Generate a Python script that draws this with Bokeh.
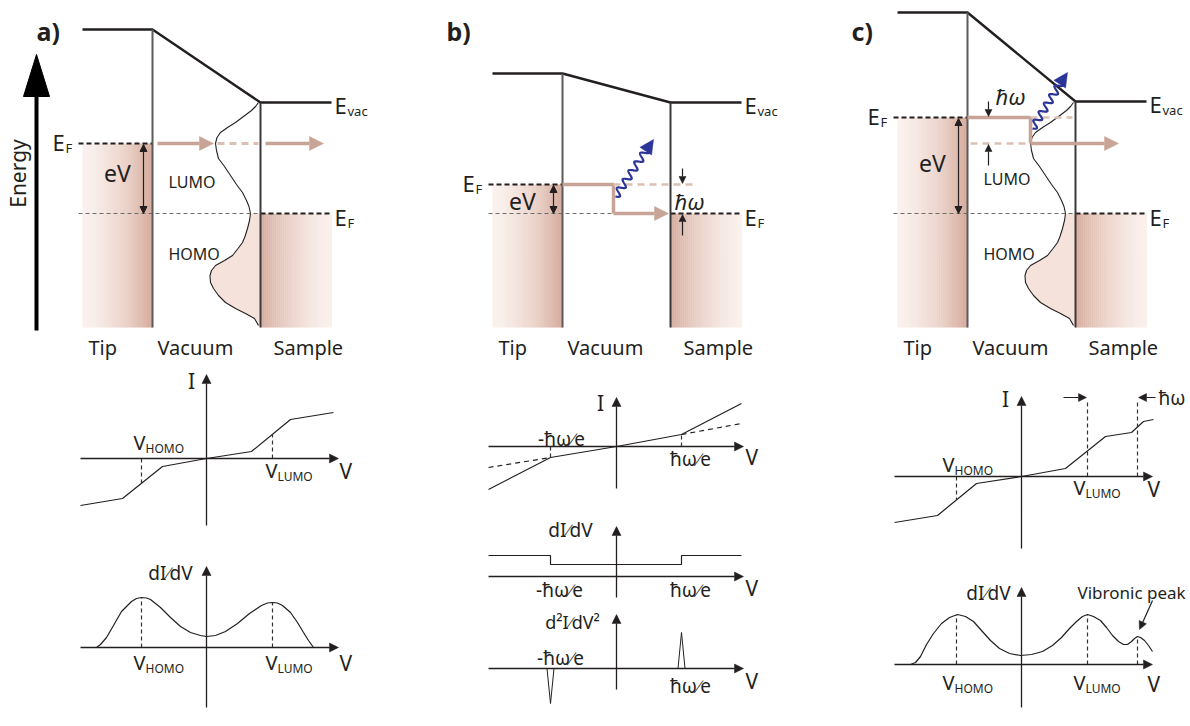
import numpy as np
from bokeh.plotting import figure
from bokeh.models import Range1d, Arrow, NormalHead
from bokeh.core.properties import value
from bokeh.embed import file_html
from bokeh.resources import INLINE

FONT = "Noto Sans"
INK = "#231f20"
WALL = "#5b5b5b"
TAN = "#c8a496"
TAN_DASH = "#dcc0b5"
BLUE = "#2a3597"
DOS_FILL = "#f4e2db"
FILL_DARK = (214, 172, 157)
FILL_LIGHT = (250, 240, 236)

# ---------------- band diagrams (top row) ----------------
PANEL_TAGS = ["a)", "b)", "c)"]
PANEL_DX = [0, 410, 815]
TIP_EVAC_Y = [29, 73, 12]
TIP_EF_Y = [143, 184, 117]
SAMPLE_EVAC_Y = [102, 102, 101]
SAMPLE_EF_Y = 213
BAND_BOTTOM_Y = 327
TIP_LEFT_X, TIP_WALL_X = 82, 152
SAMPLE_WALL_X, SAMPLE_RIGHT_X = 260, 331
EV_LABEL_X = [117, 112, 117]
EV_LABEL_Y = [172, 200, 162]
REGION_NAMES = ["Tip", "Vacuum", "Sample"]
REGION_X = [88, 157, 273]
REGION_Y = 347

# molecular density of states inside the barrier (panels a and c)
DOS_X = [258, 255, 251, 243, 235, 227, 220, 216.5, 215, 216, 218, 224, 230, 236, 242,
         246, 248.5, 250, 249, 247, 244.5, 242, 237.5, 232, 224, 215, 211, 209.5, 210,
         213, 218, 225, 235, 245, 254, 258]
DOS_Y = [102, 106, 110, 116, 122, 127, 132, 137, 143, 150, 158, 166, 175, 184, 192,
         200, 206, 213, 220, 228, 236, 242, 248, 255, 260, 265, 270, 275, 282,
         288, 295, 302, 308, 313, 318, 325]
DOS_PANELS = [0, 2]
ORBITAL_LABEL_X = [168, 983]
LUMO_LABEL_Y = [181, 178]
HOMO_LABEL_Y = [253, 253]

# tunnelling electrons
ELASTIC_A = [(157, 213), (265, 323)]          # solid arrow segments at tip E_F
ELASTIC_A_DASH = (217, 258)
INELASTIC_B_X = [562, 613, 613, 668]
INELASTIC_B_Y = [184, 184, 213, 213]
INELASTIC_B_DASH = (613, 693)
VIBRONIC_C_TOP = (967, 1030)
VIBRONIC_C_TOP_DASH = (1030, 1072)
VIBRONIC_C_LOW_DASH = (970, 1030)
VIBRONIC_C_LOW = (1030, 1118)
VIBRONIC_C_LOW_Y = 143

# emitted photons: start, end of wave, arrow tip
PHOTONS = [((615, 196), (647, 148), (653, 139)),
           ((1032, 128), (1061, 81), (1067, 72))]
# hbar-omega markers: x, tick-arrow pairs and label
HW_MARK_X = [682, 988]
HW_UPPER_Y = [184, 117]
HW_LOWER_Y = [213, 143]
HW_LABEL_XY = [(689, 200), (1010, 95)]

# ---------------- spectra (bottom rows) ----------------
# a) I-V and dI/dV, offsets from the axis origin (px), V to the right, signal up
IV_A_ORIGIN = (206, 458)
IV_A_U = [-126, -84, -44, 0, 45, 84, 127]
IV_A_V = [-47, -40, -8, 0, 7, 39, 46]
DIDV_A_ORIGIN = (206, 647)
DIDV_A_U = [-110, -106, -100, -93, -85, -75, -70, -65, -60, -56, -46, -36, -26, -16, -6, 0,
            9, 19, 31, 43, 55, 61, 66, 71, 76, 84, 91, 97, 102, 107]
DIDV_A_V = [0, 3, 10, 22, 36, 46, 49, 50, 49.5, 48, 40, 30, 21, 15, 12, 11,
            12, 16, 24, 34, 42, 44.5, 45, 44.5, 42, 35, 25, 15, 7, 0]
V_HOMO_A, V_LUMO_A = -65, 66

# b) inelastic channel
IV_B_ORIGIN = (616, 446)
IV_B_U = [-128, -66, 0, 65, 125]
IV_B_V = [-43, -11, 0, 12, 43]
IV_B_ELASTIC_U = [[-128, -66], [65, 125]]
IV_B_ELASTIC_V = [[-21, -11], [12, 23]]
DIDV_B_ORIGIN = (616, 576)
DIDV_B_U = [-128, -66, -66, 65, 65, 125]
DIDV_B_V = [21, 21, 12, 12, 21, 21]
D2_B_ORIGIN = (616, 668)
D2_B_PEAK_U = [-66, 65]
D2_B_PEAK_V = [-35, 36]
HW_B = 65

# c) vibronic replica of the LUMO
IV_C_ORIGIN = (1021, 476)
IV_C_U = [-127, -84, -45, 0, 44, 84, 110, 122, 132]
IV_C_V = [-46, -39, -7, 0, 8, 40, 44, 55, 57]
DIDV_C_ORIGIN = (1021, 664)
DIDV_C_U = [-111, -106, -101, -95, -88, -80, -72, -64, -56, -48, -40, -31, -22, -12, -1,
            10, 21, 31, 40, 48, 55, 61, 66, 72, 79, 85, 91, 97, 102, 106, 110, 113, 116,
            119, 123, 127, 131]
DIDV_C_V = [0, 2, 8, 20, 31, 41, 47, 50, 48, 43, 34, 24, 16, 11, 9,
            10, 13, 19, 27, 36, 43, 48, 50, 48, 44, 37, 29, 23, 20, 20, 23, 26, 28,
            27, 24, 19, 13]
V_HOMO_C, V_LUMO_C, V_VIB_C = -65, 66, 116

p = figure(width=1190, height=726, x_range=Range1d(0, 1190), y_range=Range1d(726, 0),
           output_backend="svg", toolbar_location=None, min_border=0,
           x_axis_type=None, y_axis_type=None)
p.grid.visible = False
p.outline_line_color = None
p.background_fill_color = "white"


def txt(x, y, s, size, align="left", baseline="middle", style="normal", angle=0.0, color=INK):
    p.text(x=[x], y=[y], text=[s], text_font=value(FONT),
           text_font_size=value(f"{size}px"), text_align=align, text_baseline=baseline,
           text_font_style=style, angle=angle, text_color=color)


def sub_label(x, y, main, sub, size, sub_size, sub_dx, sub_dy=6):
    txt(x, y, main, size)
    txt(x + sub_dx, y + sub_dy, sub, sub_size)


def arrow(x0, y0, x1, y1, color=INK, lw=1.2, size=9):
    p.add_layout(Arrow(end=NormalHead(size=size, fill_color=color, line_color=color, line_width=0.5),
                       x_start=x0, y_start=y0, x_end=x1, y_end=y1,
                       line_color=color, line_width=lw))


def gradient(x0, x1, y0, y1, dark_at_right, n=36):
    edges = np.linspace(x0, x1, n + 1)
    t = (np.arange(n) + 0.5) / n
    if not dark_at_right:
        t = 1 - t
    t = t ** 1.6
    cols = []
    for k in t:
        r, g, b = [int(round(l + (d - l) * k)) for l, d in zip(FILL_LIGHT, FILL_DARK)]
        cols.append(f"#{r:02x}{g:02x}{b:02x}")
    p.quad(left=edges[:-1], right=edges[1:] + 0.4, top=[y0] * n, bottom=[y1] * n,
           fill_color=cols, line_color=None)


# ---------- band diagrams ----------
for i, dx in enumerate(PANEL_DX):
    tev, tef, sev = TIP_EVAC_Y[i], TIP_EF_Y[i], SAMPLE_EVAC_Y[i]
    tl, tw = TIP_LEFT_X + dx, TIP_WALL_X + dx
    sw, sr = SAMPLE_WALL_X + dx, SAMPLE_RIGHT_X + dx

    gradient(tl, tw, tef, BAND_BOTTOM_Y, dark_at_right=True)
    gradient(sw, sr, SAMPLE_EF_Y, BAND_BOTTOM_Y, dark_at_right=False)

    if i in DOS_PANELS:
        xs = np.array(DOS_X) + dx
        ys = np.array(DOS_Y)
        m = ys >= SAMPLE_EF_Y
        fx = list(xs[m]) + [sw, sw]
        fy = list(ys[m]) + [BAND_BOTTOM_Y - 2, SAMPLE_EF_Y]
        p.patch(fx, fy, fill_color=DOS_FILL, line_color=None)
        p.line(list(xs), list(ys), line_color=INK, line_width=1.1)
        j = DOS_PANELS.index(i)
        txt(ORBITAL_LABEL_X[j], LUMO_LABEL_Y[j], "LUMO", 16)
        txt(ORBITAL_LABEL_X[j], HOMO_LABEL_Y[j], "HOMO", 16)

    # Fermi levels
    p.line([78 + dx, sw], [SAMPLE_EF_Y] * 2, line_color="#6d6d6d", line_width=1,
           line_dash="4 3")
    p.line([sw, sr], [SAMPLE_EF_Y] * 2, line_color=INK, line_width=1.8, line_dash="5 3")
    p.line([78 + dx, tw], [tef] * 2, line_color=INK, line_width=1.8, line_dash="5 3")

    # vacuum level and electrode walls
    p.line([tl, tw, sw, sr], [tev, tev, sev, sev], line_color=INK, line_width=2.4)
    p.line([tw, tw], [tev, BAND_BOTTOM_Y], line_color=WALL, line_width=2)
    p.line([sw, sw], [sev, BAND_BOTTOM_Y], line_color="#3a3a3a", line_width=2)

    # applied bias
    p.add_layout(Arrow(start=NormalHead(size=7, fill_color=INK, line_color=INK),
                       end=NormalHead(size=7, fill_color=INK, line_color=INK),
                       x_start=143 + dx, y_start=tef + 1, x_end=143 + dx, y_end=SAMPLE_EF_Y,
                       line_color=INK, line_width=1.2))
    txt(EV_LABEL_X[i] + dx, EV_LABEL_Y[i], "eV", 23, align="center")

    # level labels
    sub_label(52 + dx, tef - 2, "E", "F", 22, 13, 13)
    sub_label(334 + dx, sev + 2, "E", "vac", 22, 13, 13)
    sub_label(334 + dx, SAMPLE_EF_Y + 3, "E", "F", 22, 13, 13)

    txt(36 + dx, 30, PANEL_TAGS[i], 25, style="bold")
    for name, rx in zip(REGION_NAMES, REGION_X):
        txt(rx + dx, REGION_Y, name, 20)

# energy axis
p.line([36, 36], [330, 90], line_color="black", line_width=4)
p.patch([23, 36, 49], [96, 54, 96], fill_color="black", line_color="black")
txt(17, 173, "Energy", 21, align="center", angle=np.pi / 2)

# a) elastic tunnelling into the LUMO
for x0, x1 in ELASTIC_A:
    arrow(x0, TIP_EF_Y[0], x1, TIP_EF_Y[0], color=TAN, lw=3.5, size=14)
p.line(list(ELASTIC_A_DASH), [TIP_EF_Y[0]] * 2, line_color=TAN_DASH, line_width=3, line_dash="7 5")

# b) inelastic tunnelling with photon emission
p.line(INELASTIC_B_X[:-1], INELASTIC_B_Y[:-1], line_color=TAN, line_width=3.5)
arrow(INELASTIC_B_X[-2], INELASTIC_B_Y[-1], INELASTIC_B_X[-1], INELASTIC_B_Y[-1],
      color=TAN, lw=3.5, size=14)
p.line(list(INELASTIC_B_DASH), [TIP_EF_Y[1]] * 2, line_color=TAN_DASH, line_width=2.5,
       line_dash="7 5")

# c) tunnelling through the vibronic level
yc_top = TIP_EF_Y[2]
p.line(list(VIBRONIC_C_TOP), [yc_top] * 2, line_color=TAN, line_width=3.5)
p.line(list(VIBRONIC_C_TOP_DASH), [yc_top] * 2, line_color=TAN_DASH, line_width=2.5,
       line_dash="7 5")
p.line([VIBRONIC_C_TOP[1]] * 2, [yc_top, VIBRONIC_C_LOW_Y], line_color=TAN, line_width=3.5)
p.line(list(VIBRONIC_C_LOW_DASH), [VIBRONIC_C_LOW_Y] * 2, line_color=TAN_DASH, line_width=2.5,
       line_dash="7 5")
arrow(VIBRONIC_C_LOW[0], VIBRONIC_C_LOW_Y, VIBRONIC_C_LOW[1], VIBRONIC_C_LOW_Y,
      color=TAN, lw=3.5, size=14)

# photons
for (s, e, tip) in PHOTONS:
    L = np.hypot(e[0] - s[0], e[1] - s[1])
    ux, uy = (e[0] - s[0]) / L, (e[1] - s[1]) / L
    t = np.linspace(0, 1, 240)
    w = 3.6 * np.sin(2 * np.pi * 5.5 * t)
    p.line(s[0] + ux * L * t - uy * w, s[1] + uy * L * t + ux * w, line_color=BLUE,
           line_width=2.2)
    arrow(e[0], e[1], tip[0], tip[1], color=BLUE, lw=2, size=14)

# hbar-omega markers
for xm, yu, yl, (lx, ly) in zip(HW_MARK_X, HW_UPPER_Y, HW_LOWER_Y, HW_LABEL_XY):
    arrow(xm, yu - 16, xm, yu - 1, size=7, lw=1.2)
    arrow(xm, yl + 22, xm, yl + 1, size=7, lw=1.2)
    txt(lx, ly, "ħω", 22, align="center", style="italic")


# ---------- spectra ----------
def axes(origin, xl, xr, yb, yt):
    ox, oy = origin
    arrow(xl, oy, xr, oy, lw=1.3, size=9)
    arrow(ox, yb, ox, yt, lw=1.3, size=9)


def curve(origin, us, vs, dash="solid", lw=1.2):
    ox, oy = origin
    p.line([ox + u for u in us], [oy - v for v in vs], line_color=INK, line_width=lw,
           line_dash=dash)


def marker(origin, u, v0, v1):
    ox, oy = origin
    p.line([ox + u] * 2, [oy - v0, oy - v1], line_color="#333333", line_width=1.2,
           line_dash="4 3")


# a) I-V
o = IV_A_ORIGIN
axes(o, 80, 338, 525, 374)
curve(o, IV_A_U, IV_A_V)
marker(o, V_HOMO_A, 0, np.interp(V_HOMO_A, IV_A_U, IV_A_V))
marker(o, V_LUMO_A, 0, np.interp(V_LUMO_A, IV_A_U, IV_A_V))
txt(o[0] - 15, 380, "I", 21, align="center")
txt(339, 470, "V", 21)
sub_label(133, 442, "V", "HOMO", 20, 12, 12)
sub_label(265, 470, "V", "LUMO", 20, 12, 12)

# a) dI/dV
o = DIDV_A_ORIGIN
axes(o, 80, 338, 707, 566)
curve(o, DIDV_A_U, DIDV_A_V)
marker(o, V_HOMO_A, 0, np.interp(V_HOMO_A, DIDV_A_U, DIDV_A_V))
marker(o, V_LUMO_A, 0, np.interp(V_LUMO_A, DIDV_A_U, DIDV_A_V))
txt(170, 572, "dI∕dV", 19, align="center")
txt(339, 662, "V", 21)
sub_label(133, 662, "V", "HOMO", 20, 12, 12)
sub_label(265, 662, "V", "LUMO", 20, 12, 12)

# b) I-V
o = IV_B_ORIGIN
axes(o, 488, 743, 488, 397)
for us, vs in zip(IV_B_ELASTIC_U, IV_B_ELASTIC_V):
    curve(o, us, vs, dash="5 4")
curve(o, IV_B_U, IV_B_V)
marker(o, -HW_B - 1, 0, np.interp(-HW_B - 1, IV_B_U, IV_B_V))
marker(o, HW_B, 0, np.interp(HW_B, IV_B_U, IV_B_V))
txt(o[0] - 16, 402, "I", 21, align="center")
txt(745, 456, "V", 21)
txt(561, 438, "-ħω∕e", 19, align="center")
txt(690, 458, "ħω∕e", 19, align="center")

# b) dI/dV
o = DIDV_B_ORIGIN
axes(o, 488, 743, 597, 526)
curve(o, DIDV_B_U, DIDV_B_V)
txt(570, 529, "dI∕dV", 19, align="center")
txt(745, 587, "V", 21)
txt(559, 589, "-ħω∕e", 19, align="center")
txt(690, 589, "ħω∕e", 19, align="center")

# b) d2I/dV2
o = D2_B_ORIGIN
axes(o, 488, 743, 689, 614)
for u, v in zip(D2_B_PEAK_U, D2_B_PEAK_V):
    p.patch([o[0] + u - 3.5, o[0] + u, o[0] + u + 3.5], [o[1], o[1] - v, o[1]],
            fill_color="white", line_color=INK, line_width=1)
txt(572, 621, "d²I∕dV²", 18, align="center")
txt(745, 680, "V", 21)
txt(560, 657, "-ħω∕e", 19, align="center")
txt(690, 685, "ħω∕e", 19, align="center")

# c) I-V
o = IV_C_ORIGIN
axes(o, 894, 1152, 548, 396)
curve(o, IV_C_U, IV_C_V)
marker(o, V_HOMO_C, 0, np.interp(V_HOMO_C, IV_C_U, IV_C_V))
marker(o, V_LUMO_C, 0, 76)
marker(o, V_VIB_C, 0, 76)
arrow(1063, 397, o[0] + V_LUMO_C - 1, 397, size=8, lw=1.2)
arrow(1155, 397, o[0] + V_VIB_C + 1, 397, size=8, lw=1.2)
txt(1158, 397, "ħω", 19)
txt(o[0] - 16, 398, "I", 21, align="center")
txt(1147, 488, "V", 21)
sub_label(942, 464, "V", "HOMO", 20, 12, 12)
sub_label(1073, 487, "V", "LUMO", 20, 12, 12)

# c) dI/dV
o = DIDV_C_ORIGIN
axes(o, 894, 1152, 707, 587)
curve(o, DIDV_C_U, DIDV_C_V)
for u in (V_HOMO_C, V_LUMO_C, V_VIB_C):
    marker(o, u, 0, np.interp(u, DIDV_C_U, DIDV_C_V))
txt(988, 592, "dI∕dV", 19, align="center")
txt(1077, 592, "Vibronic peak", 17)
arrow(1152, 600, 1139, 629, size=8, lw=1.2)
txt(1147, 683, "V", 21)
sub_label(942, 682, "V", "HOMO", 20, 12, 12)
sub_label(1073, 682, "V", "LUMO", 20, 12, 12)

open("out.html", "w").write(file_html(p, INLINE))
